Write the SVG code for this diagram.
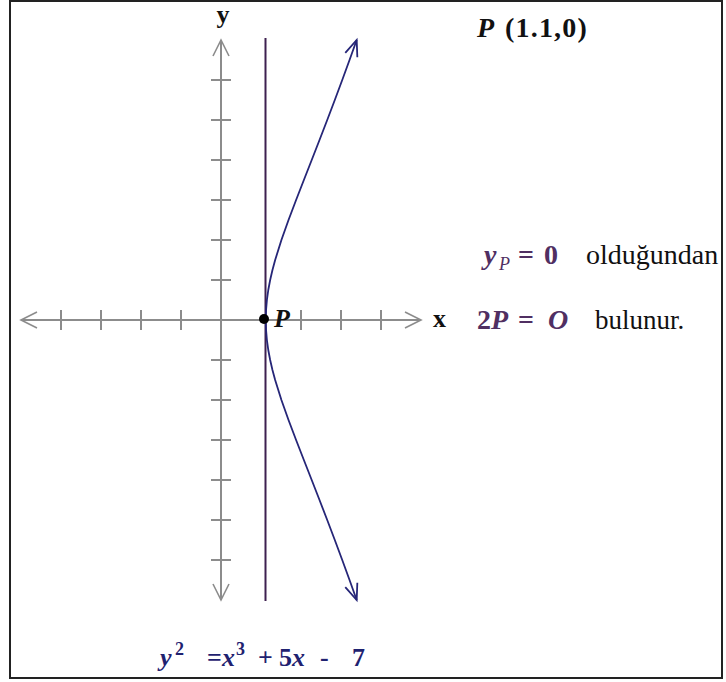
<svg xmlns="http://www.w3.org/2000/svg" width="726" height="682" viewBox="0 0 726 682">
<style>
.ax{stroke:#8c8c8c;stroke-width:2;fill:none}
.cv{stroke:#262678;stroke-width:1.8;fill:none;stroke-linejoin:round}
.vl{stroke:#3e2050;stroke-width:2}
text{font-family:"Liberation Serif","Times New Roman","DejaVu Serif",serif}
.b{font-weight:bold}
.i{font-style:italic}
.pur{fill:#502f62}
.nav{fill:#1f2270}
.blk{fill:#111}
</style>
<defs>
<marker id="aa" markerUnits="userSpaceOnUse" markerWidth="40" markerHeight="40" viewBox="-20 -20 40 40" refX="0" refY="0" orient="auto" overflow="visible">
<path d="M-16,-8 L0,0 L-16,8" fill="none" stroke="#8c8c8c" stroke-width="1.6"/>
</marker>
<marker id="ca" markerUnits="userSpaceOnUse" markerWidth="40" markerHeight="40" viewBox="-20 -20 40 40" refX="0" refY="0" orient="auto" overflow="visible">
<path d="M-16,-6.4 L0,0 L-16,6.4" fill="none" stroke="#262678" stroke-width="1.8"/>
</marker>
</defs>
<rect x="0" y="0" width="726" height="682" fill="#fff"/>
<rect id="frame" x="10" y="1" width="712" height="677" fill="none" stroke="#222" stroke-width="2"/>

<g id="connectors">
<g id="axes">
<path class="ax" d="M221,320 H21" marker-end="url(#aa)"/>
<path class="ax" d="M221,320 H421" marker-end="url(#aa)"/>
<path class="ax" d="M221,320 V40" marker-end="url(#aa)"/>
<path class="ax" d="M221,320 V600" marker-end="url(#aa)"/>
<path class="ax" d="M211,80 H231 M211,120 H231 M211,160 H231 M211,200 H231 M211,240 H231 M211,280 H231 M211,360 H231 M211,400 H231 M211,440 H231 M211,480 H231 M211,520 H231 M211,560 H231 M61,310 V330 M101,310 V330 M141,310 V330 M181,310 V330 M301,310 V330 M341,310 V330 M381,310 V330"/>
</g>
<line id="tangent" class="vl" x1="265.5" y1="38" x2="265.5" y2="601"/>
<g id="curve">
<path class="cv" marker-end="url(#ca)" d="M265.8,320 L266.06,310 L266.91,300 L268.28,290 L270.16,280 L272.46,270 L275.15,260 L281.42,240 L288.52,220 L296.09,200 L303.87,180 L311.71,160 L319.51,140 L327.22,120 L334.8,100 L342.24,80 L349.54,60 L356.69,40"/>
<path class="cv" marker-end="url(#ca)" d="M265.8,320 L266.06,330 L266.91,340 L268.28,350 L270.16,360 L272.46,370 L275.15,380 L281.42,400 L288.52,420 L296.09,440 L303.87,460 L311.71,480 L319.51,500 L327.22,520 L334.8,540 L342.24,560 L349.54,580 L356.69,600"/>
</g>
</g>

<g id="point-P">
<circle cx="264" cy="319" r="5" fill="#000"/>
<text class="b i blk" x="274" y="327" font-size="26" font-family="Liberation Serif, serif">P</text>
</g>

<g id="axis-labels">
<text class="b blk" x="223" y="23" font-size="26" text-anchor="middle" font-family="Liberation Serif, serif">y</text>
<text class="b blk" x="433" y="327" font-size="26" font-family="Liberation Serif, serif">x</text>
</g>

<g id="title-P">
<text class="b blk" y="37" font-size="28" font-family="Liberation Serif, serif"><tspan class="i" x="477">P</tspan><tspan x="505" letter-spacing="1.2">(1.1,0)</tspan></text>
</g>

<g id="note" font-family="Liberation Serif, serif">
<text class="b i pur" x="484" y="264" font-size="28">y</text>
<text class="i pur" x="499" y="270" font-size="18">P</text>
<text class="b pur" x="518" y="264" font-size="28">=</text>
<text class="b pur" x="544" y="264" font-size="28">0</text>
<text class="blk" x="586" y="264" font-size="28">olduğundan</text>
<text class="b pur" x="477" y="329" font-size="28">2</text>
<text class="b i pur" x="491" y="329" font-size="28">P</text>
<text class="b pur" x="518" y="329" font-size="28">=</text>
<text class="b i pur" x="548" y="329" font-size="28">O</text>
<text class="blk" x="595" y="329" font-size="27">bulunur.</text>
</g>

<g id="equation" font-family="Liberation Serif, serif">
<text class="b i nav" x="160" y="666" font-size="26">y</text>
<text class="b nav" x="175" y="655" font-size="18">2</text>
<text class="b nav" x="207" y="666" font-size="26">=</text>
<text class="b i nav" x="222" y="666" font-size="26">x</text>
<text class="b nav" x="236" y="655" font-size="18">3</text>
<text class="b nav" x="258" y="666" font-size="26">+</text>
<text class="b nav" x="279" y="666" font-size="26">5</text>
<text class="b i nav" x="292" y="666" font-size="26">x</text>
<text class="b nav" x="320" y="666" font-size="26">-</text>
<text class="b nav" x="352" y="666" font-size="26">7</text>
</g>
</svg>
